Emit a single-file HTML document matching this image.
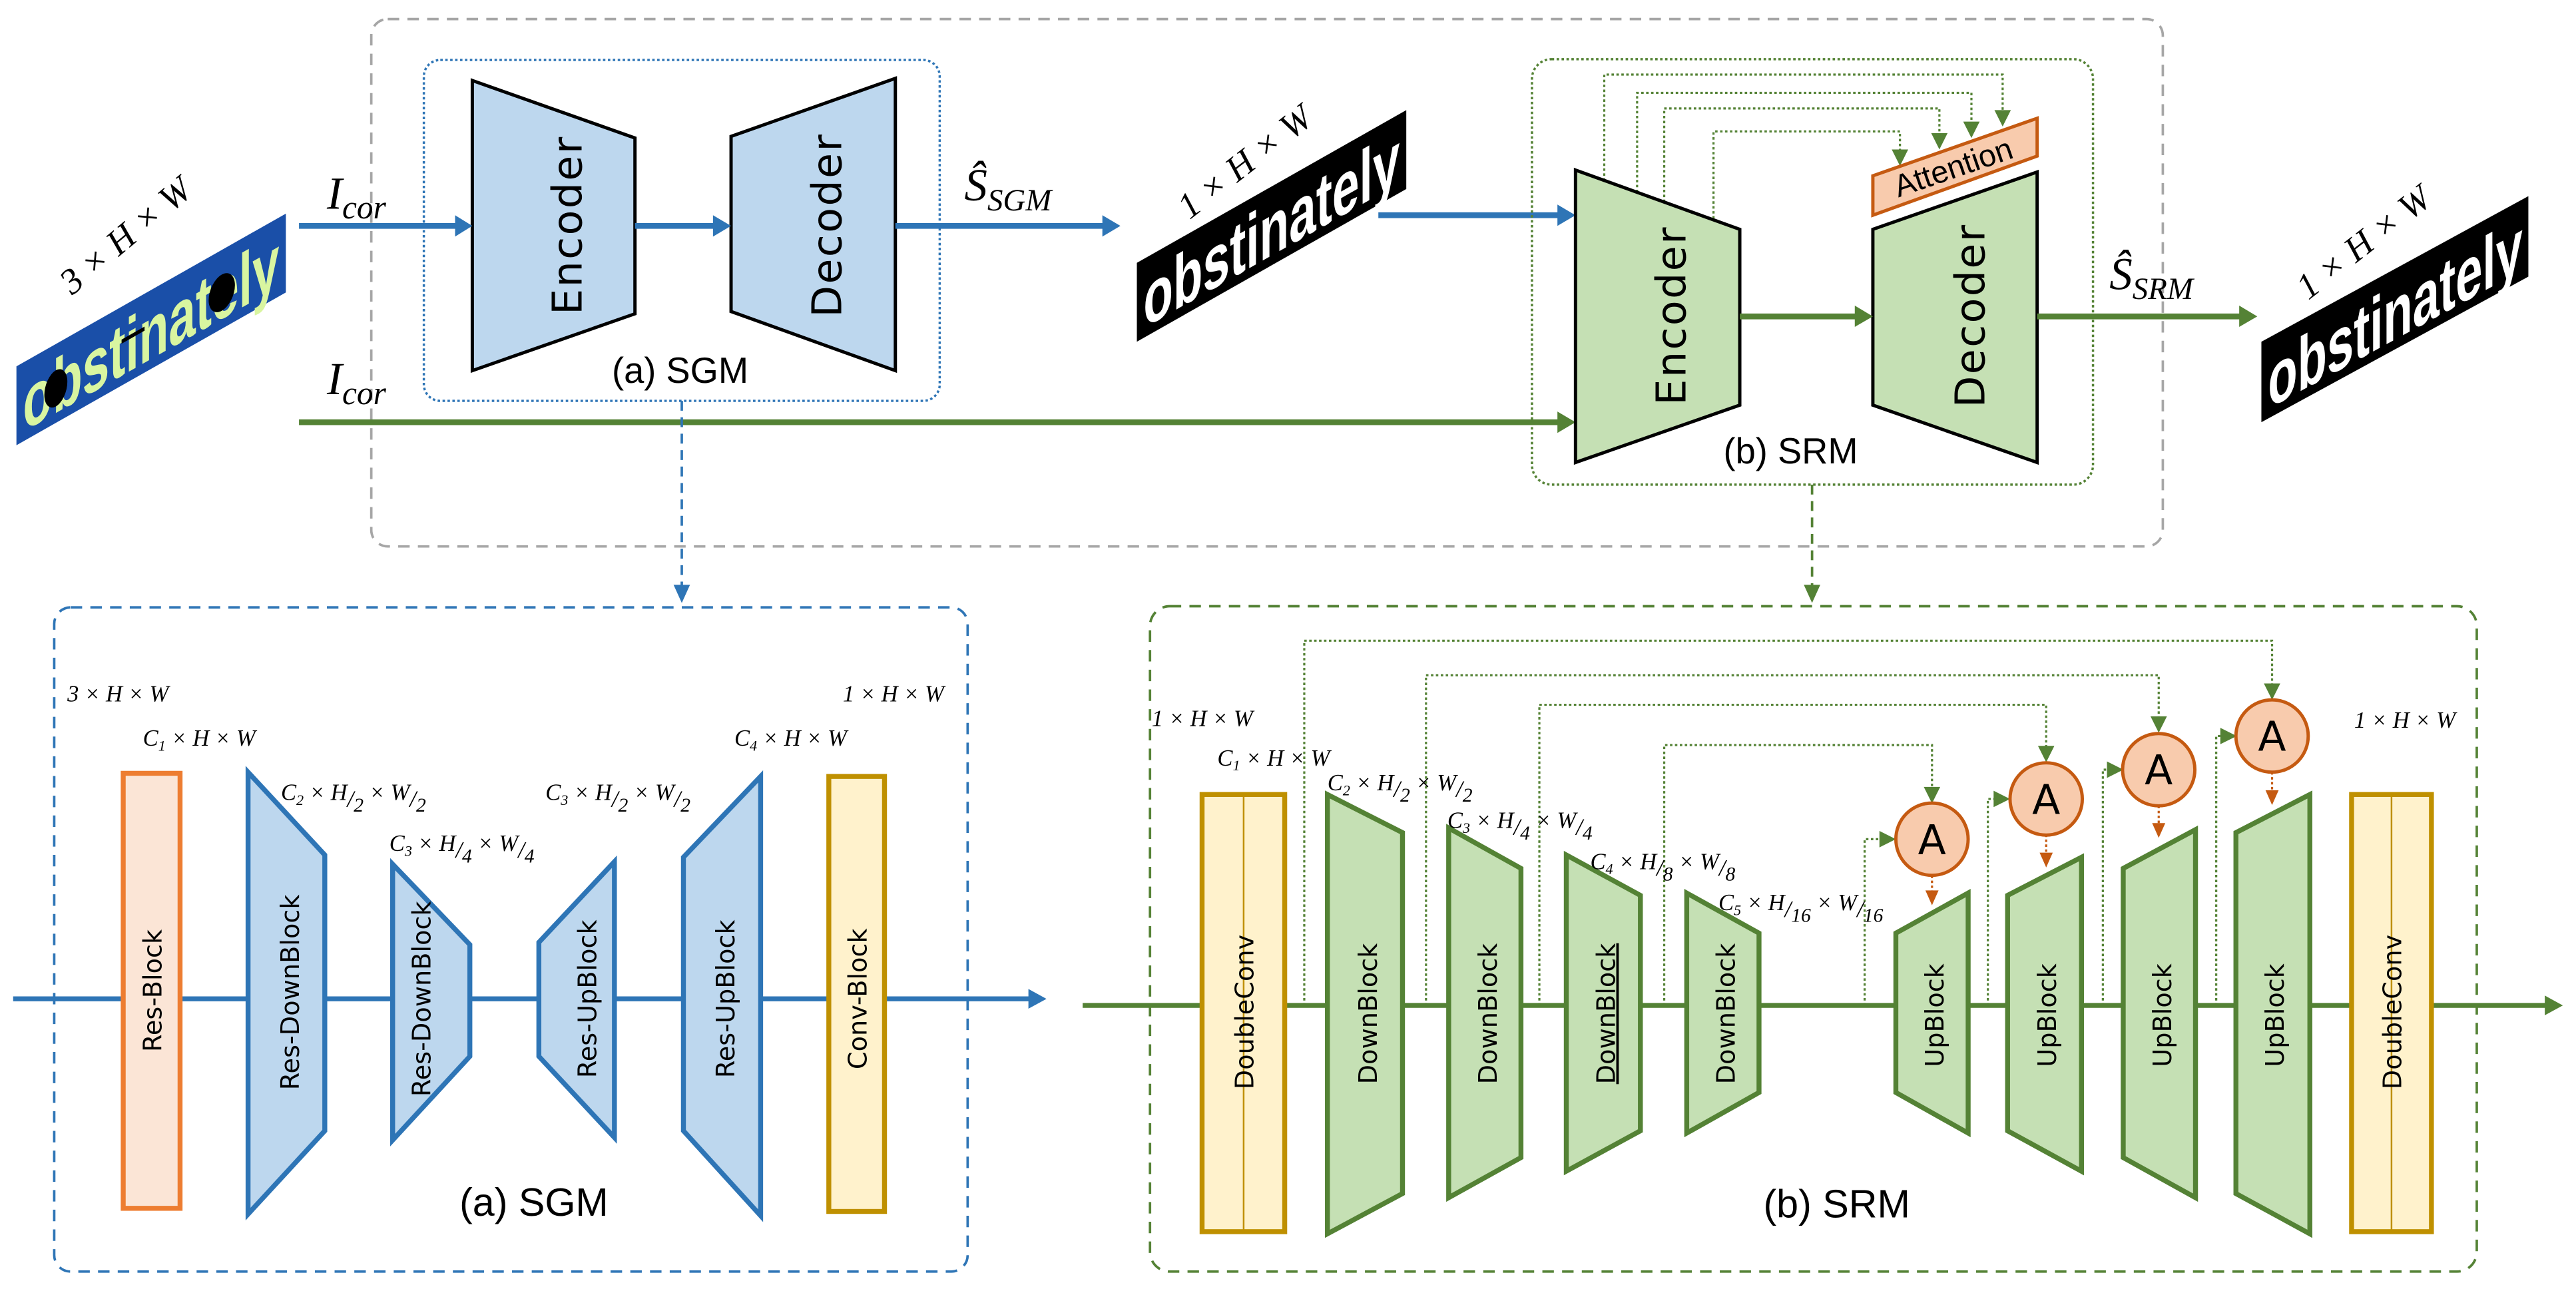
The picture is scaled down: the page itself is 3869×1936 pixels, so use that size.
<!DOCTYPE html>
<html><head><meta charset="utf-8"><style>html,body{margin:0;padding:0;background:#fff}svg{display:block}</style></head><body>
<svg xmlns="http://www.w3.org/2000/svg" width="3869" height="1936" viewBox="0 0 1568 784.6">
<defs>
<style>
.s{font-family:"DejaVu Sans","Liberation Sans",sans-serif}
.t{font-family:"Liberation Sans",sans-serif}
.m{font-family:"Liberation Serif",serif;font-style:italic}
</style>
</defs>
<rect width="1568" height="784.6" fill="#fff"/>

<rect x="226" y="11.6" width="1090.5" height="321" rx="10" fill="none" stroke="#a6a6a6" stroke-width="1.5" stroke-dasharray="7,5"/>

<g transform="translate(10,223) skewY(-29.55)">
<rect x="0" y="0" width="164" height="48" fill="#1a4fa8"/>
<text x="4" y="42" class="t" font-weight="bold" font-size="46" fill="#d9f5a0" textLength="156" lengthAdjust="spacingAndGlyphs">obstinately</text>
<ellipse cx="24" cy="27" rx="7" ry="11" fill="#000"/>
<ellipse cx="125" cy="26" rx="8" ry="11" fill="#000"/>
<rect x="64" y="20" width="14" height="2.5" fill="#000"/>
</g>
<text class="m" font-size="22" transform="translate(44,180) rotate(-40)">3 × H × W</text>

<rect x="258" y="36.5" width="314" height="207.5" rx="10" fill="none" stroke="#2e75b6" stroke-width="1.4" stroke-dasharray="1.5,1.5"/>
<polygon points="287.5,49 386.5,84 386.5,191 287.5,225.6" fill="#bdd7ee" stroke="#000" stroke-width="2"/>
<polygon points="445,83 545,47.7 545,225.6 445,189.6" fill="#bdd7ee" stroke="#000" stroke-width="2"/>
<text class="s" font-size="25" letter-spacing="1" text-anchor="middle" transform="translate(345,137) rotate(-90)" dy="9">Encoder</text>
<text class="s" font-size="25" letter-spacing="1" text-anchor="middle" transform="translate(503,137) rotate(-90)" dy="9">Decoder</text>
<text class="t" font-size="22" text-anchor="middle" x="414" y="233">(a) SGM</text>

<g stroke="#2e75b6" stroke-width="3.5">
<line x1="182" y1="137.5" x2="280" y2="137.5"/>
<line x1="386.5" y1="137.5" x2="438" y2="137.5"/>
<line x1="545" y1="137.5" x2="675" y2="137.5"/>
<line x1="839" y1="131" x2="952" y2="131"/>
</g>
<g fill="#2e75b6">
<polygon points="287.5,137.5 277,131 277,144"/>
<polygon points="445,137.5 434,131 434,144"/>
<polygon points="682,137.5 671,131 671,144"/>
<polygon points="959,131 948,124.5 948,137.5"/>
</g>
<text class="m" font-size="28" x="199" y="127">I<tspan font-size="20" dy="6">cor</tspan></text>
<text class="m" font-size="28" x="199" y="240">I<tspan font-size="20" dy="6">cor</tspan></text>
<text class="m" font-size="28" x="587" y="122">Ŝ<tspan font-size="19" dy="6">SGM</tspan></text>

<g transform="translate(692,160) skewY(-29.55)">
<rect x="0" y="0" width="164" height="48" fill="#000"/>
<text x="4" y="42" class="t" font-weight="bold" font-size="46" fill="#fff" textLength="156" lengthAdjust="spacingAndGlyphs">obstinately</text>
</g>
<text class="m" font-size="22" transform="translate(724,134) rotate(-38)">1 × H × W</text>

<line x1="182" y1="257" x2="950" y2="257" stroke="#548235" stroke-width="3.5"/>
<polygon points="959,257 948,250.5 948,263.5" fill="#548235"/>

<rect x="932.5" y="36" width="341.5" height="259" rx="12" fill="none" stroke="#548235" stroke-width="1.4" stroke-dasharray="1.5,1.5"/>
<g fill="none" stroke="#548235" stroke-width="1.3" stroke-dasharray="1.5,1.5">
<polyline points="976.5,110 976.5,45.4 1219,45.4 1219,68"/>
<polyline points="996.5,117 996.5,56.5 1200,56.5 1200,74"/>
<polyline points="1013,123 1013,66 1180.5,66 1180.5,80"/>
<polyline points="1043,133 1043,80 1156.5,80 1156.5,91"/>
</g>
<g fill="#548235">
<polygon points="1219,77 1214,67 1224,67"/>
<polygon points="1200,84 1195,74 1205,74"/>
<polygon points="1180.5,91 1175.5,81 1185.5,81"/>
<polygon points="1156.5,101 1151.5,91 1161.5,91"/>
</g>
<polygon points="1140,107 1240,72 1240,95 1140,131" fill="#f8cbad" stroke="#c55a11" stroke-width="2"/>
<text class="t" font-size="19" text-anchor="middle" transform="translate(1191,108) rotate(-19)">Attention</text>
<polygon points="959,103.5 1059,139.6 1059,246.6 959,281.5" fill="#c5e0b4" stroke="#000" stroke-width="2"/>
<polygon points="1140,139.6 1240,104.7 1240,281.5 1140,246.6" fill="#c5e0b4" stroke="#000" stroke-width="2"/>
<text class="s" font-size="25" letter-spacing="1" text-anchor="middle" transform="translate(1017,192) rotate(-90)" dy="9">Encoder</text>
<text class="s" font-size="25" letter-spacing="1" text-anchor="middle" transform="translate(1199,192) rotate(-90)" dy="9">Decoder</text>
<text class="t" font-size="22" text-anchor="middle" x="1090" y="282">(b) SRM</text>
<g stroke="#548235" stroke-width="3.5">
<line x1="1059" y1="192.6" x2="1132" y2="192.6"/>
<line x1="1240" y1="192.6" x2="1366" y2="192.6"/>
</g>
<g fill="#548235">
<polygon points="1140,192.6 1129,186 1129,199"/>
<polygon points="1374,192.6 1363,186 1363,199"/>
</g>
<text class="m" font-size="28" x="1284" y="176">Ŝ<tspan font-size="19" dy="6">SRM</tspan></text>

<g transform="translate(1376.5,208) skewY(-28.6)">
<rect x="0" y="0" width="162.5" height="49" fill="#000"/>
<text x="4" y="43" class="t" font-weight="bold" font-size="46" fill="#fff" textLength="155" lengthAdjust="spacingAndGlyphs">obstinately</text>
</g>
<text class="m" font-size="22" transform="translate(1405,183) rotate(-38)">1 × H × W</text>

<line x1="415" y1="244" x2="415" y2="357" stroke="#2e75b6" stroke-width="1.5" stroke-dasharray="6,4"/>
<polygon points="415,367 410,356 420,356" fill="#2e75b6"/>
<line x1="1103" y1="295" x2="1103" y2="357" stroke="#548235" stroke-width="1.5" stroke-dasharray="6,4"/>
<polygon points="1103,367 1098,356 1108,356" fill="#548235"/>

<rect x="33" y="369.7" width="556" height="404.3" rx="10" fill="none" stroke="#2e75b6" stroke-width="1.5" stroke-dasharray="7,5"/>
<line x1="8" y1="608" x2="628" y2="608" stroke="#2e75b6" stroke-width="3"/>
<polygon points="637,608 626,602 626,614" fill="#2e75b6"/>
<rect x="75" y="470.7" width="34.6" height="264.8" fill="#fbe5d6" stroke="#ed7d31" stroke-width="3"/>
<g fill="#bdd7ee" stroke="#2e75b6" stroke-width="3">
<polygon points="151,470 197.7,520.4 197.7,688.3 151,739"/>
<polygon points="239,526 286,575 286,643 239,694"/>
<polygon points="328,573.6 374,524.5 374,692.4 328,643"/>
<polygon points="416,521.8 463,472.6 463,740 416,688.3"/>
</g>
<rect x="504.5" y="472.6" width="33.9" height="264.8" fill="#fff2cc" stroke="#bf9000" stroke-width="3"/>
<g class="s" font-size="15.5" text-anchor="middle">
<text transform="translate(92.3,603) rotate(-90)" dy="6">Res-Block</text>
<text transform="translate(176,604) rotate(-90)" dy="6">Res-DownBlock</text>
<text transform="translate(256,608) rotate(-90)" dy="6">Res-DownBlock</text>
<text transform="translate(357,608) rotate(-90)" dy="6">Res-UpBlock</text>
<text transform="translate(441,608) rotate(-90)" dy="6">Res-UpBlock</text>
<text transform="translate(521.5,608) rotate(-90)" dy="6">Conv-Block</text>
</g>
<text class="t" font-size="24" text-anchor="middle" x="325" y="740">(a) SGM</text>
<g class="m" font-size="14">
<text x="41" y="427">3 × H × W</text>
<text x="87" y="454">C<tspan font-size="9" dy="3">1</tspan><tspan dy="-3"> × H × W</tspan></text>
<text x="171" y="487">C<tspan font-size="9" dy="3">2</tspan><tspan dy="-3"> × H</tspan><tspan dy="4">/</tspan><tspan font-size="12" dy="3">2</tspan><tspan dy="-7"> × W</tspan><tspan dy="4">/</tspan><tspan font-size="12" dy="3">2</tspan></text>
<text x="237" y="518">C<tspan font-size="9" dy="3">3</tspan><tspan dy="-3"> × H</tspan><tspan dy="4">/</tspan><tspan font-size="12" dy="3">4</tspan><tspan dy="-7"> × W</tspan><tspan dy="4">/</tspan><tspan font-size="12" dy="3">4</tspan></text>
<text x="332" y="487">C<tspan font-size="9" dy="3">3</tspan><tspan dy="-3"> × H</tspan><tspan dy="4">/</tspan><tspan font-size="12" dy="3">2</tspan><tspan dy="-7"> × W</tspan><tspan dy="4">/</tspan><tspan font-size="12" dy="3">2</tspan></text>
<text x="447" y="454">C<tspan font-size="9" dy="3">4</tspan><tspan dy="-3"> × H × W</tspan></text>
<text x="513" y="427">1 × H × W</text>
</g>

<rect x="700" y="369" width="807.6" height="405" rx="12" fill="none" stroke="#548235" stroke-width="1.5" stroke-dasharray="7,5"/>
<line x1="659" y1="612" x2="1550" y2="612" stroke="#548235" stroke-width="3"/>
<polygon points="1560,612 1549,606 1549,618" fill="#548235"/>
<g fill="none" stroke="#548235" stroke-width="1.3" stroke-dasharray="1.5,1.5">
<polyline points="793.9,612 793.9,390 1383,390 1383,417"/>
<polyline points="868,612 868,411 1314,411 1314,437"/>
<polyline points="937,612 937,429 1245.5,429 1245.5,455"/>
<polyline points="1013,612 1013,453.5 1176,453.5 1176,480"/>
<polyline points="1135,612 1135,510.8 1145,510.8"/>
<polyline points="1210,612 1210,486.3 1214,486.3"/>
<polyline points="1280,612 1280,468.5 1283,468.5"/>
<polyline points="1349,612 1349,448 1352,448"/>
</g>
<g fill="#548235">
<polygon points="1383,426 1378,416 1388,416"/>
<polygon points="1314,446 1309,436 1319,436"/>
<polygon points="1245.5,464 1240.5,454 1250.5,454"/>
<polygon points="1176,489 1171,479 1181,479"/>
<polygon points="1154,510.8 1144,505.8 1144,515.8"/>
<polygon points="1223.5,486.3 1213.5,481.3 1213.5,491.3"/>
<polygon points="1292.5,468.5 1282.5,463.5 1282.5,473.5"/>
<polygon points="1361.5,448 1351.5,443 1351.5,453"/>
</g>
<g stroke="#c55a11" stroke-width="1.3" stroke-dasharray="1.5,1.5">
<line x1="1176" y1="533" x2="1176" y2="543"/>
<line x1="1245.5" y1="508" x2="1245.5" y2="520"/>
<line x1="1314" y1="490.5" x2="1314" y2="502"/>
<line x1="1383" y1="470" x2="1383" y2="482"/>
</g>
<g fill="#c55a11">
<polygon points="1176,551 1172,542 1180,542"/>
<polygon points="1245.5,528 1241.5,519 1249.5,519"/>
<polygon points="1314,510 1310,501 1318,501"/>
<polygon points="1383,490 1379,481 1387,481"/>
</g>
<rect x="731.7" y="483.6" width="50.3" height="266.1" fill="#fff2cc" stroke="#bf9000" stroke-width="3"/>
<line x1="757" y1="483.6" x2="757" y2="749.7" stroke="#bf9000" stroke-width="1"/>
<rect x="1431.4" y="483.6" width="48.6" height="266.1" fill="#fff2cc" stroke="#bf9000" stroke-width="3"/>
<line x1="1455.7" y1="483.6" x2="1455.7" y2="749.7" stroke="#bf9000" stroke-width="1"/>
<g fill="#c5e0b4" stroke="#548235" stroke-width="3">
<polygon points="808,483.6 853.7,506.8 853.7,726.5 808,751"/>
<polygon points="881.8,504 925.8,528.6 925.8,704.6 881.8,729"/>
<polygon points="953.4,520.4 998.5,545 998.5,688.3 953.4,712.9"/>
<polygon points="1026.7,543.6 1070.7,568 1070.7,665 1026.7,689.7"/>
<polygon points="1154,568 1198,543.6 1198,689.7 1154,665"/>
<polygon points="1222,545 1267,521.8 1267,712.9 1222,688.3"/>
<polygon points="1292.4,528.6 1336.4,505 1336.4,729 1292.4,704.6"/>
<polygon points="1361,506.8 1406,483.6 1406,751 1361,726.5"/>
</g>
<g fill="#f8cbad" stroke="#c55a11" stroke-width="2">
<circle cx="1176" cy="510.8" r="22"/>
<circle cx="1245.5" cy="486.3" r="22"/>
<circle cx="1314" cy="468.5" r="22"/>
<circle cx="1383" cy="448" r="22"/>
</g>
<g class="s" font-size="25" text-anchor="middle">
<text x="1176" y="520">A</text>
<text x="1245.5" y="495.5">A</text>
<text x="1314" y="477.5">A</text>
<text x="1383" y="457">A</text>
</g>
<g class="s" font-size="15.5" text-anchor="middle">
<text transform="translate(757,616) rotate(-90)" dy="6">DoubleConv</text>
<text transform="translate(1455.7,616) rotate(-90)" dy="6">DoubleConv</text>
<text transform="translate(832,617) rotate(-90)" dy="6">DownBlock</text>
<text transform="translate(905,617) rotate(-90)" dy="6">DownBlock</text>
<text transform="translate(977,617) rotate(-90)" dy="6" text-decoration="underline">DownBlock</text>
<text transform="translate(1050,617) rotate(-90)" dy="6">DownBlock</text>
<text transform="translate(1177,618) rotate(-90)" dy="6">UpBlock</text>
<text transform="translate(1245.5,618) rotate(-90)" dy="6">UpBlock</text>
<text transform="translate(1315.5,618) rotate(-90)" dy="6">UpBlock</text>
<text transform="translate(1384,618) rotate(-90)" dy="6">UpBlock</text>
</g>
<text class="t" font-size="24" text-anchor="middle" x="1118" y="741">(b) SRM</text>
<g class="m" font-size="14">
<text x="701" y="442">1 × H × W</text>
<text x="741" y="466">C<tspan font-size="9" dy="3">1</tspan><tspan dy="-3"> × H × W</tspan></text>
<text x="808" y="481">C<tspan font-size="9" dy="3">2</tspan><tspan dy="-3"> × H</tspan><tspan dy="4">/</tspan><tspan font-size="12" dy="3">2</tspan><tspan dy="-7"> × W</tspan><tspan dy="4">/</tspan><tspan font-size="12" dy="3">2</tspan></text>
<text x="881" y="504">C<tspan font-size="9" dy="3">3</tspan><tspan dy="-3"> × H</tspan><tspan dy="4">/</tspan><tspan font-size="12" dy="3">4</tspan><tspan dy="-7"> × W</tspan><tspan dy="4">/</tspan><tspan font-size="12" dy="3">4</tspan></text>
<text x="968" y="529">C<tspan font-size="9" dy="3">4</tspan><tspan dy="-3"> × H</tspan><tspan dy="4">/</tspan><tspan font-size="12" dy="3">8</tspan><tspan dy="-7"> × W</tspan><tspan dy="4">/</tspan><tspan font-size="12" dy="3">8</tspan></text>
<text x="1046" y="554">C<tspan font-size="9" dy="3">5</tspan><tspan dy="-3"> × H</tspan><tspan dy="4">/</tspan><tspan font-size="12" dy="3">16</tspan><tspan dy="-7"> × W</tspan><tspan dy="4">/</tspan><tspan font-size="12" dy="3">16</tspan></text>
<text x="1433" y="443">1 × H × W</text>
</g>
</svg>
</body></html>
